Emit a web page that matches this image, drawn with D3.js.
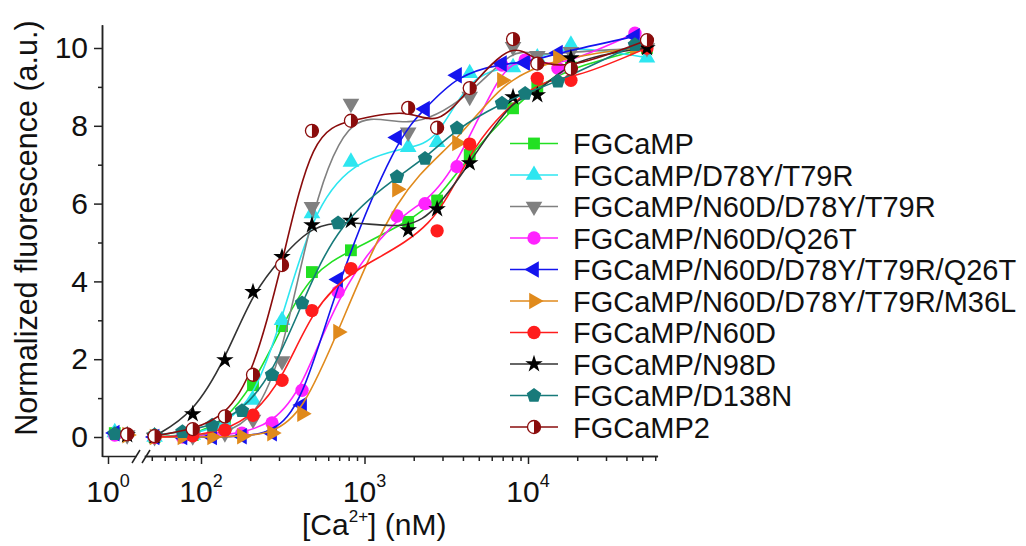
<!DOCTYPE html>
<html>
<head>
<meta charset="utf-8">
<script src="https://cdn.jsdelivr.net/npm/d3@7"></script>
<style>
    body { margin: 0; background: #fff; }
    svg { font-family: "Liberation Sans", Arial, sans-serif; }
</style>
</head>
<body>
<svg id="chart" width="1026" height="546"></svg>
<script>
// concentrations (nM) of the two titration sets
const concA = [52, 89, 140, 208, 313, 477, 826, 1850, 2780, 4400, 8100, 11400, 18300, 53400];
const concB = [52, 77, 117, 178, 272, 415, 689, 1580, 2345, 3680, 6930, 9600, 15240, 45100];

// normalized fluorescence, one array per variant (null = no point)
const fgcamp       = [0, 0.05, 0.4, 1.33, 2.85, 4.24, 4.8, 5.53, 6.08, 7.25, 8.45, 9.0, 9.5, 10.0];
const d78y         = [0, 0.05, 0.35, 0.95, 3.0, 5.75, 7.07, 7.45, 7.58, 9.35, 9.5, 9.75, 10.08, 9.75];
const n60dD78y     = [0, 0.02, 0.1, 0.45, 1.95, 5.92, 8.57, 7.83, null, 8.75, 10.03, 9.8, 9.9, 10.0];
const n60dQ26t     = [0, 0, 0.03, 0.1, 0.36, 1.2, 3.73, 5.68, 6.0, 6.95, 9.56, 9.69, 9.48, 10.38];
const q26t         = [0, 0, 0, 0.02, 0.1, 0.82, 4.05, 7.7, 8.43, 9.3, 9.6, 9.62, 9.87, 10.3];
const m36l         = [0, 0, 0, 0.02, 0.1, 0.6, 2.7, 6.37, null, 7.56, 9.17, null, 9.74, 10.0];
const n60d         = [0, 0.03, 0.18, 0.56, 1.46, 3.25, 4.33, null, 5.3, 7.53, null, 9.22, 9.17, 10.0];
const n98d         = [0.02, 0.59, 1.98, 3.73, 4.63, 5.45, 5.56, 5.32, 5.86, 7.04, 8.74, 8.79, 9.74, 10.0];
const d138n        = [0.05, 0.13, 0.3, 0.67, 1.6, 3.44, 5.5, 6.69, 7.16, 7.94, 8.58, 8.83, 9.14, 10.08];
const fgcamp2      = [0.02, 0.2, 0.53, 1.6, 4.42, 7.87, 8.13, 8.46, 7.95, 8.97, 10.23, 9.6, 9.47, 10.2];

// points left of the axis break (no calcium)
const zeroConc = [1.1, 1.1, 1.31, 1.1, 1.1, 1.31, 1.31, 1.31, 1.1, 1.31];
const zeroVal  = [0.1, 0.12, 0.05, 0.05, 0.1, 0.05, 0.07, 0.05, 0.08, 0.07];

const names = ['FGCaMP', 'FGCaMP/D78Y/T79R', 'FGCaMP/N60D/D78Y/T79R', 'FGCaMP/N60D/Q26T',
    'FGCaMP/N60D/D78Y/T79R/Q26T', 'FGCaMP/N60D/D78Y/T79R/M36L', 'FGCaMP/N60D',
    'FGCaMP/N98D', 'FGCaMP/D138N', 'FGCaMP2'];
const values = [fgcamp, d78y, n60dD78y, n60dQ26t, q26t, m36l, n60d, n98d, d138n, fgcamp2];
const sets = ['A', 'A', 'A', 'B', 'B', 'B', 'A', 'A', 'B', 'A'];
const colors = ['#22e022', '#2ee6f0', '#808080', '#ff22ff', '#1414ee', '#e08a1c', '#ff1c1c', '#000000', '#177a7a', '#8a0c0c'];
const lineColors = ['#22e022', '#2ee6f0', '#808080', '#ff22ff', '#1414ee', '#e08a1c', '#ff1c1c', '#333333', '#177a7a', '#8a0c0c'];
const shapes = ['square', 'triUp', 'triDown', 'circle', 'triLeft', 'triRight', 'circle', 'star', 'pentagon', 'half'];

const xTickMajor = [100, 1000, 10000];
const yTickMajor = [0, 2, 4, 6, 8, 10];
const yTickMinor = [1, 3, 5, 7, 9];

const svg = d3.select('#chart');

// Scales (same decade width on both sides of the break)
const x = d3.scaleLog().domain([100, 10000]).range([201, 528]);
const xLeft = d3.scaleLog().domain([1, 10]).range([108, 108 + 163.5]);
const y = d3.scaleLinear().domain([0, 10]).range([437, 48]);

const axisColor = '#222';

// Y axis
const yAxisScale = y.copy().domain([-0.5, 10.6]).range([y(-0.5), y(10.6)]);
const gy = svg.append('g').attr('transform', 'translate(102,0)');
gy.call(d3.axisLeft(yAxisScale).tickValues(yTickMinor).tickSize(4).tickSizeOuter(0).tickFormat(''));
gy.call(g => g.append('g').call(d3.axisLeft(yAxisScale).tickValues(yTickMajor).tickSize(8).tickSizeOuter(0).tickFormat(d3.format('d'))));
gy.selectAll('path, line').attr('stroke', axisColor).attr('stroke-width', 1.5);
gy.selectAll('text').attr('font-size', 30).attr('fill', '#111').attr('x', -14).attr('font-family', 'Liberation Sans, Arial, sans-serif');

// X axis, right part
const xSeg = x.copy().domain([45, 62000]).range([x(45), x(62000)]);
const minorTicks = [];
[10, 100, 1000, 10000].forEach(dec => {
    for (let k = 2; k <= 9; k++) if (dec * k >= 45 && dec * k <= 62000) minorTicks.push(dec * k);
});
const gx = svg.append('g').attr('transform', 'translate(0,456)');
gx.call(d3.axisBottom(xSeg).tickValues(minorTicks).tickSize(5).tickSizeOuter(0).tickFormat(''));
gx.append('g').call(d3.axisBottom(xSeg).tickValues(xTickMajor).tickSize(8).tickSizeOuter(0).tickFormat(''));

// X axis, left part
const xLeftSeg = xLeft.copy().domain([xLeft.invert(102), xLeft.invert(136)]).range([102, 136]);
gx.append('g').call(d3.axisBottom(xLeftSeg).tickValues([1]).tickSize(8).tickSizeOuter(0).tickFormat(''));
gx.selectAll('path, line').attr('stroke', axisColor).attr('stroke-width', 1.5);

// break marks
[[132, 142], [142, 152]].forEach(([a, b]) => {
    gx.append('line').attr('x1', a).attr('y1', 7).attr('x2', b - 2).attr('y2', -6)
        .attr('stroke', axisColor).attr('stroke-width', 1.5);
});

// X tick labels with exponents
const xLabels = [{ v: 1, px: xLeft(1), e: '0' }].concat(xTickMajor.map(v => ({ v, px: x(v), e: String(Math.round(Math.log10(v))) })));
xLabels.forEach(d => {
    const t = svg.append('text').attr('x', d.px).attr('y', 502)
        .attr('text-anchor', 'middle').attr('font-size', 30).attr('fill', '#111');
    t.append('tspan').text('10');
    t.append('tspan').attr('font-size', 18).attr('dy', -15).text(d.e);
});

// Axis titles
const xt = svg.append('text').attr('x', 302).attr('y', 535).attr('font-size', 30).attr('fill', '#111');
xt.append('tspan').text('[Ca');
xt.append('tspan').attr('font-size', 17).attr('dy', -13).text('2+');
xt.append('tspan').attr('dy', 13).text('] (nM)');

svg.append('text')
    .attr('transform', 'translate(37,228) rotate(-90)')
    .attr('text-anchor', 'middle').attr('font-size', 30.5).attr('fill', '#111')
    .text('Normalized fluorescence (a.u.)');

// Marker drawing
const drawMarker = (g, shape, color, cx, cy) => {
    const m = g.append('g').attr('transform', `translate(${cx},${cy})`);
    if (shape === 'half') {
        const r = 6.5;
        m.append('circle').attr('r', r).attr('fill', '#fff').attr('stroke', color).attr('stroke-width', 1.3);
        m.append('path').attr('d', `M0,${-r}A${r},${r} 0 0 1 0,${r}Z`).attr('fill', color);
        return;
    }
    let path, rot = 0;
    if (shape === 'square') path = d3.symbol(d3.symbolSquare, 140)();
    else if (shape === 'circle') path = d3.symbol(d3.symbolCircle, 140)();
    else if (shape === 'star') path = d3.symbol(d3.symbolStar, 95)();
    else if (shape === 'pentagon') {
        const r = 7.6;
        path = d3.line()(d3.range(5).map(k => {
            const a = -Math.PI / 2 + k * 2 * Math.PI / 5;
            return [r * Math.cos(a), r * Math.sin(a)];
        })) + 'Z';
    } else {
        path = d3.symbol(d3.symbolTriangle, 120)();
        rot = { triUp: 0, triDown: 180, triLeft: -90, triRight: 90 }[shape];
    }
    m.append('path').attr('d', path).attr('transform', `rotate(${rot})`).attr('fill', color);
};

// smooth fitted-looking curve through the points
const line = d3.line()
    .x(d => x(d.c))
    .y(d => y(d.v))
    .curve(d3.curveBasis);

values.forEach((vals, i) => {
    const conc = sets[i] === 'A' ? concA : concB;
    const pts = conc.map((c, j) => ({ c, v: vals[j] })).filter(d => d.v !== null);
    const g = svg.append('g');
    g.append('path').datum(pts).attr('d', line)
        .attr('fill', 'none').attr('stroke', lineColors[i]).attr('stroke-width', 1.6);
    pts.forEach(d => drawMarker(g, shapes[i], colors[i], x(d.c), y(d.v)));
    drawMarker(g, shapes[i], colors[i], xLeft(zeroConc[i]), y(zeroVal[i]));
});

// Legend
const legend = svg.append('g');
names.forEach((name, i) => {
    const cy = 143.5 + i * 31.5;
    legend.append('line').attr('x1', 510).attr('x2', 558).attr('y1', cy).attr('y2', cy)
        .attr('stroke', lineColors[i]).attr('stroke-width', 1.6);
    drawMarker(legend, shapes[i], colors[i], 534, cy);
    legend.append('text').attr('x', 573).attr('y', cy + 10.5)
        .attr('font-size', 29).attr('fill', '#111').text(name);
});
</script>
</body>
</html>
